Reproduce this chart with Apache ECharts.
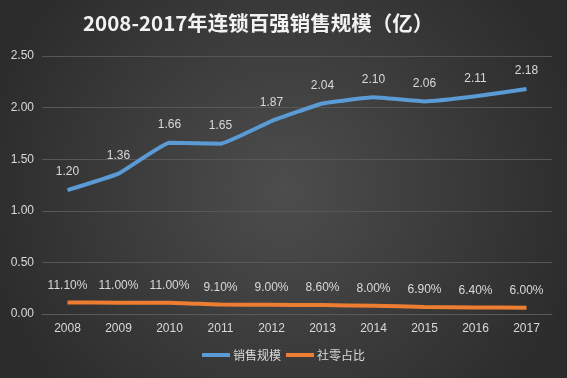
<!DOCTYPE html>
<html>
<head>
<meta charset="utf-8">
<script src="https://cdn.jsdelivr.net/npm/echarts@6/dist/echarts.min.js"></script>
<style>
  body { margin: 0; padding: 0; }
  #chart { width: 567px; height: 378px; }
</style>
</head>
<body>
<div id="chart"></div>
<script>
var years = ['2008', '2009', '2010', '2011', '2012', '2013', '2014', '2015', '2016', '2017'];
var salesScale = [1.20, 1.36, 1.66, 1.65, 1.87, 2.04, 2.10, 2.06, 2.11, 2.18];
var retailShare = [0.111, 0.110, 0.110, 0.091, 0.090, 0.086, 0.080, 0.069, 0.064, 0.060];
var yTicks = [0, 0.5, 1, 1.5, 2, 2.5];

var labelColor = '#d9d9d9';
var chart = echarts.init(document.getElementById('chart'));
chart.setOption({
  backgroundColor: {
    type: 'radial', x: 0.5, y: 0.5, r: 0.8,
    colorStops: [{ offset: 0, color: '#4d4d4d' }, { offset: 1, color: '#2c2c2c' }]
  },
  title: {
    text: '2008-2017年连锁百强销售规模（亿）',
    left: 78, top: 8,
    textStyle: { color: '#f2f2f2', fontSize: 20.5, fontWeight: 'bold', fontFamily: 'Noto Sans CJK SC' }
  },
  legend: {
    bottom: 12,
    itemWidth: 28, itemHeight: 4, itemGap: 5,
    icon: 'rect',
    textStyle: { color: labelColor, fontSize: 12, padding: [0, 0, 0, -2], fontFamily: 'Noto Sans CJK SC' },
    data: ['销售规模', '社零占比']
  },
  grid: { left: 42, right: 15, top: 56, bottom: 64 },
  xAxis: {
    type: 'category',
    data: years,
    axisLine: { lineStyle: { color: '#5a5a5a' } },
    axisTick: { show: false },
    axisLabel: { color: labelColor, fontSize: 12, margin: 9 }
  },
  yAxis: {
    type: 'value',
    min: yTicks[0], max: yTicks[yTicks.length - 1], interval: 0.5,
    axisLine: { show: false },
    axisTick: { show: false },
    axisLabel: { color: labelColor, fontSize: 12, margin: 8, formatter: function (v) { return v.toFixed(2); } },
    splitLine: { lineStyle: { color: '#575757' } }
  },
  series: [
    {
      name: '销售规模',
      type: 'line',
      data: salesScale,
      smooth: 0.1,
      symbol: 'circle',
      symbolSize: 0,
      showSymbol: true,
      lineStyle: { width: 4, color: '#5b9bd5' },
      itemStyle: { color: '#5b9bd5' },
      label: {
        show: true, position: 'top', distance: 12, color: labelColor, fontSize: 12,
        formatter: function (p) { return p.value.toFixed(2); }
      }
    },
    {
      name: '社零占比',
      type: 'line',
      data: retailShare,
      smooth: 0.1,
      symbol: 'circle',
      symbolSize: 0,
      showSymbol: true,
      lineStyle: { width: 4, color: '#ed7d31' },
      itemStyle: { color: '#ed7d31' },
      label: {
        show: true, position: 'top', distance: 11, color: labelColor, fontSize: 12,
        formatter: function (p) { return (p.value * 100).toFixed(2) + '%'; }
      }
    }
  ]
});
</script>
</body>
</html>
